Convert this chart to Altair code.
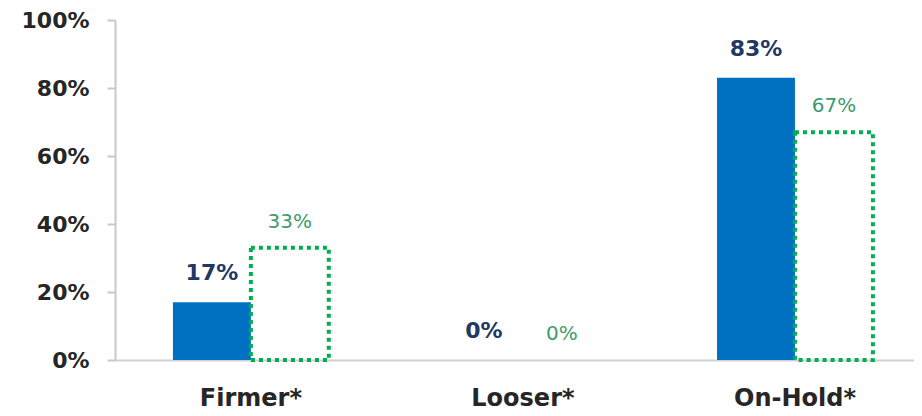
import altair as alt
import pandas as pd

categories = ["Firmer*", "Looser*", "On-Hold*"]
series = ["Current", "Previous"]
current_values = [0.17, 0.00, 0.83]
previous_values = [0.33, 0.00, 0.67]

rows = []
for c, v in zip(categories, current_values):
    rows.append({"category": c, "series": series[0], "value": v})
for c, v in zip(categories, previous_values):
    rows.append({"category": c, "series": series[1], "value": v})
df = pd.DataFrame(rows)

FONT = "DejaVu Sans"

x_enc = alt.X(
    "category:N",
    sort=categories,
    scale=alt.Scale(paddingInner=0.427, paddingOuter=0.182, align=0.585),
    axis=alt.Axis(
        title=None, labelAngle=0, ticks=False, labelFont=FONT, labelFontSize=24,
        labelFontWeight="bold", labelColor="#262626", labelPadding=26,
        domainColor="#d0d0d0", domainWidth=2,
    ),
)
xoff = alt.XOffset("series:N", scale=alt.Scale(domain=series, paddingInner=0, paddingOuter=0))
y_enc = alt.Y(
    "value:Q",
    scale=alt.Scale(domain=[0, 1], nice=False),
    axis=alt.Axis(
        title=None, format=".0%", values=[0, 0.2, 0.4, 0.6, 0.8, 1.0], grid=False,
        labelFont=FONT, labelFontSize=22, labelFontWeight="bold", labelColor="#262626",
        labelPadding=18, tickSize=8, tickColor="#c8c8c8", tickWidth=2,
        domainColor="#c8c8c8", domainWidth=2,
    ),
)

base = alt.Chart(df).encode(x=x_enc, xOffset=xoff, y=y_enc)

blue_bars = base.transform_filter(alt.datum.series == series[0]).mark_bar(color="#0070C0")
green_bars = base.transform_filter(
    (alt.datum.series == series[1]) & (alt.datum.value > 0)
).mark_bar(fill=None, stroke="#00B050", strokeWidth=4, strokeDash=[4, 4], fillOpacity=0)

blue_text = base.transform_filter(alt.datum.series == series[0]).mark_text(
    font=FONT, fontSize=22, fontWeight="bold", color="#1F3864", baseline="middle", dy=-29
).encode(text=alt.Text("value:Q", format=".0%"))
green_text = base.transform_filter(alt.datum.series == series[1]).mark_text(
    font=FONT, fontSize=20, color="#3E9B6E", baseline="middle", dy=-26
).encode(text=alt.Text("value:Q", format=".0%"))

chart = alt.layer(blue_bars, green_bars, blue_text, green_text).properties(
    width=799,
    height=340,
    autosize=alt.AutoSizeParams(type="none"),
    padding={"left": 107, "top": 12, "right": 0, "bottom": 56},
).configure_view(stroke=None)

chart.save("out.html", embed_options={"renderer": "svg", "actions": False})
